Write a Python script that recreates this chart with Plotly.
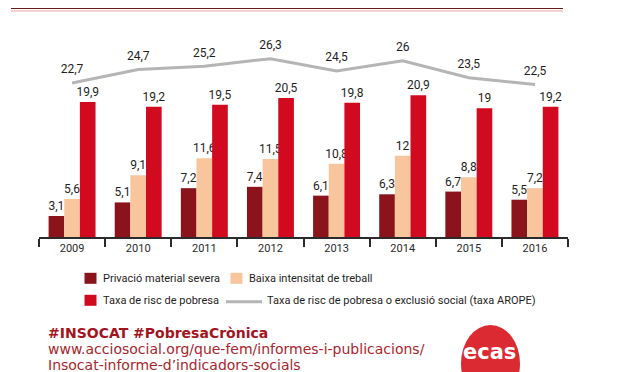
import plotly.graph_objects as go

years = ["2009", "2010", "2011", "2012", "2013", "2014", "2015", "2016"]
privacio = [3.1, 5.1, 7.2, 7.4, 6.1, 6.3, 6.7, 5.5]
baixa = [5.6, 9.1, 11.6, 11.5, 10.8, 12, 8.8, 7.2]
risc = [19.9, 19.2, 19.5, 20.5, 19.8, 20.9, 19, 19.2]
arope = [22.7, 24.7, 25.2, 26.3, 24.5, 26, 23.5, 22.5]

names = ["Privació material severa", "Baixa intensitat de treball",
         "Taxa de risc de pobresa",
         "Taxa de risc de pobresa o exclusió social (taxa AROPE)"]
colors = ["#8b141c", "#f8c59c", "#d20a1f", "#b5b5b5"]

# page body has an 8px default margin: the figure is drawn from (8, 8)
OFF = 8
W, H = 613, 364
ML, MR, MT, MB = 31, 53, 25, 135
PW, PH = W - ML - MR, H - MT - MB
PX_PER_UNIT = 6.78


def fmt(v):
    return ("%g" % v).replace(".", ",")


def px(x):
    """screen pixel x -> paper x"""
    return (x - OFF - ML) / PW


def py(y):
    """screen pixel y -> paper y"""
    return (OFF + H - MB - y) / PH


COND = "Roboto, Liberation Sans, sans-serif"
num_font = dict(family=COND, size=12, color="#1e1e1e")

fig = go.Figure()
for vals, name, col in zip([privacio, baixa, risc], names[:3], colors[:3]):
    fig.add_trace(go.Bar(
        x=years, y=vals, name=name, marker=dict(color=col, line=dict(width=0)),
        text=[fmt(v) for v in vals], textposition="outside", textfont=num_font,
        constraintext="none", cliponaxis=False, showlegend=False))

fig.add_trace(go.Scatter(
    x=years, y=arope, name=names[3], mode="lines+markers+text",
    line=dict(color=colors[3], width=3),
    marker=dict(size=9, color="rgba(0,0,0,0)", line=dict(width=0)),
    text=[fmt(v) for v in arope], textposition="top center", textfont=num_font,
    cliponaxis=False, showlegend=False))

shapes = []
annotations = []

# top rule
shapes.append(dict(type="line", xref="paper", yref="paper",
                   x0=px(11), x1=px(563), y0=py(8), y1=py(8),
                   line=dict(color="#6e1a1c", width=2)))
shapes.append(dict(type="line", xref="paper", yref="paper",
                   x0=px(11), x1=px(563), y0=py(11), y1=py(11),
                   line=dict(color="#f6cfd0", width=2)))

# manual legend
leg_font = dict(family=COND, size=11, color="#1e1e1e")
rows = [278.3, 300.3]
legend_items = [
    ("rect", colors[0], 84.5, rows[0], names[0], 101),
    ("rect", colors[1], 230.5, rows[0], names[1], 247),
    ("rect", colors[2], 84.5, rows[1], names[2], 101),
    ("line", colors[3], 226, rows[1], names[3], 265),
]
for kind, col, x0, yc, label, tx in legend_items:
    if kind == "rect":
        shapes.append(dict(type="rect", xref="paper", yref="paper",
                           x0=px(x0), x1=px(x0 + 12), y0=py(yc - 5.5), y1=py(yc + 5.5),
                           fillcolor=col, line=dict(width=0)))
    else:
        shapes.append(dict(type="line", xref="paper", yref="paper",
                           x0=px(x0), x1=px(x0 + 36), y0=py(yc + 1.5), y1=py(yc + 1.5),
                           line=dict(color=col, width=3)))
    annotations.append(dict(text=label, xref="paper", yref="paper",
                            x=px(tx), y=py(yc), xanchor="left", yanchor="middle",
                            showarrow=False, font=leg_font))

# footer
foot = "DejaVu Sans, Verdana, sans-serif"
annotations.append(dict(text="<b>#INSOCAT #PobresaCrònica</b>", xref="paper", yref="paper",
                        x=px(46), y=py(333), xanchor="left", yanchor="middle",
                        showarrow=False, font=dict(family=foot, size=14, color="#a3141d")))
annotations.append(dict(text="www.acciosocial.org/que-fem/informes-i-publicacions/",
                        xref="paper", yref="paper",
                        x=px(46), y=py(349), xanchor="left", yanchor="middle",
                        showarrow=False, font=dict(family=foot, size=14, color="#a8262c")))
annotations.append(dict(text="Insocat-informe-d’indicadors-socials",
                        xref="paper", yref="paper",
                        x=px(46), y=py(365), xanchor="left", yanchor="middle",
                        showarrow=False, font=dict(family=foot, size=14, color="#a8262c")))

# logo
shapes.append(dict(type="circle", xref="paper", yref="paper",
                   x0=px(461), x1=px(520), y0=py(325), y1=py(402),
                   fillcolor="#dc2a33", line=dict(width=0)))
annotations.append(dict(text="<b>ecas</b>", xref="paper", yref="paper",
                        x=px(489), y=py(352), xanchor="center", yanchor="middle",
                        showarrow=False,
                        font=dict(family="DejaVu Sans, sans-serif", size=21, color="#ffffff")))

fig.update_layout(
    width=W, height=H,
    margin=dict(l=ML, r=MR, t=MT, b=MB, pad=0),
    paper_bgcolor="white", plot_bgcolor="white",
    barmode="group", bargap=0.29, bargroupgap=0,
    showlegend=False,
    shapes=shapes, annotations=annotations,
    xaxis=dict(type="category", showline=True, linecolor="#2b2b2b", linewidth=2,
               ticks="outside", tickson="boundaries", ticklen=8, tickwidth=1.5,
               tickcolor="#2b2b2b", showgrid=False, zeroline=False,
               tickfont=dict(family=COND, size=11, color="#2b2b2b")),
    yaxis=dict(range=[0, PH / PX_PER_UNIT], visible=False, showgrid=False, zeroline=False),
)

fig.write_html("out.html")
